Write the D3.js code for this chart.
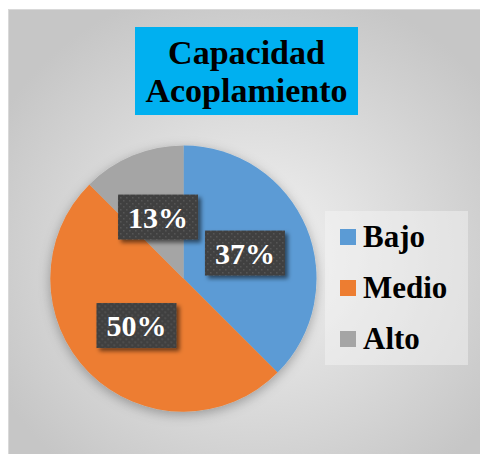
<!DOCTYPE html>
<html>
<head>
<meta charset="utf-8">
<script src="https://cdn.jsdelivr.net/npm/d3@7"></script>
<style>
  html, body { margin: 0; padding: 0; background: #ffffff; }
  svg { display: block; }
</style>
</head>
<body>
<div id="chart"></div>
<script>
const categories = ["Bajo", "Medio", "Alto"];
const values = [37.5, 50, 12.5];
const pctLabels = ["37%", "50%", "13%"];
const colors = ["#5b9bd5", "#ed7d31", "#a5a5a5"];
const titleLines = ["Capacidad", "Acoplamiento"];

const width = 480;
const height = 454;
const serif = "'Liberation Serif', 'Times New Roman', serif";

const svg = d3.select("#chart")
  .append("svg")
  .attr("width", width)
  .attr("height", height);

const defs = svg.append("defs");

// chart area background
const bg = defs.append("radialGradient")
  .attr("id", "bgGrad")
  .attr("cx", "52%").attr("cy", "55%").attr("r", "62%");
bg.append("stop").attr("offset", "0%").attr("stop-color", "#f3f3f3");
bg.append("stop").attr("offset", "100%").attr("stop-color", "#c6c6c6");

const pieShadow = defs.append("filter")
  .attr("id", "pieShadow")
  .attr("x", "-20%").attr("y", "-20%").attr("width", "140%").attr("height", "140%");
pieShadow.append("feDropShadow")
  .attr("dx", 0).attr("dy", 3)
  .attr("stdDeviation", 6)
  .attr("flood-color", "#000")
  .attr("flood-opacity", 0.3);

const boxShadow = defs.append("filter")
  .attr("id", "boxShadow")
  .attr("x", "-20%").attr("y", "-20%").attr("width", "150%").attr("height", "160%");
boxShadow.append("feDropShadow")
  .attr("dx", 3).attr("dy", 3)
  .attr("stdDeviation", 2)
  .attr("flood-color", "#000")
  .attr("flood-opacity", 0.55);

const dots = defs.append("pattern")
  .attr("id", "dots")
  .attr("patternUnits", "userSpaceOnUse")
  .attr("width", 6).attr("height", 6);
dots.append("rect").attr("width", 6).attr("height", 6).attr("fill", "#404040");
dots.append("rect").attr("x", 1).attr("y", 1).attr("width", 1.5).attr("height", 1.5).attr("fill", "#575757");
dots.append("rect").attr("x", 4).attr("y", 4).attr("width", 1.5).attr("height", 1.5).attr("fill", "#575757");

svg.append("rect")
  .attr("x", 8.5).attr("y", 9.5)
  .attr("width", width - 8).attr("height", height - 9)
  .attr("fill", "url(#bgGrad)")
  .attr("stroke", "#d9d9d9")
  .attr("stroke-width", 1);

// ---- Title ----
svg.append("rect")
  .attr("x", 135).attr("y", 27)
  .attr("width", 223).attr("height", 88)
  .attr("fill", "#00b0f0");

svg.append("g")
  .selectAll("text")
  .data(titleLines)
  .enter()
  .append("text")
  .attr("x", 246.5)
  .attr("y", (d, i) => 63.5 + i * 38.5)
  .attr("text-anchor", "middle")
  .attr("font-family", serif)
  .attr("font-weight", "bold")
  .attr("font-size", 34)
  .attr("fill", "#000")
  .text(d => d);

// ---- Pie ----
const cx = 183.5, cy = 278.5, radius = 133;

const pie = d3.pie().sort(null).value(d => d)(values);
const arc = d3.arc().innerRadius(0).outerRadius(radius);

const pieG = svg.append("g").attr("transform", `translate(${cx},${cy})`);

pieG.append("g")
  .attr("filter", "url(#pieShadow)")
  .selectAll("path")
  .data(pie)
  .enter()
  .append("path")
  .attr("d", arc)
  .attr("fill", (d, i) => colors[i]);

const boxW = 80, boxH = 45;
const labels = pieG.selectAll(".lbl")
  .data(pie)
  .enter()
  .append("g")
  .attr("class", "lbl")
  .attr("transform", d => `translate(${arc.centroid(d)})`);

labels.append("rect")
  .attr("x", -boxW / 2).attr("y", -boxH / 2)
  .attr("width", boxW).attr("height", boxH)
  .attr("fill", "url(#dots)")
  .attr("filter", "url(#boxShadow)");

labels.append("text")
  .attr("y", 10.5)
  .attr("text-anchor", "middle")
  .attr("font-family", serif)
  .attr("font-weight", "bold")
  .attr("font-size", 30)
  .attr("fill", "#fff")
  .text((d, i) => pctLabels[i]);

// ---- Legend ----
svg.append("rect")
  .attr("x", 325).attr("y", 211)
  .attr("width", 143).attr("height", 154)
  .attr("fill", "#f7f7f7")
  .attr("opacity", 0.45);

const legendItems = svg.append("g")
  .selectAll("g")
  .data(categories)
  .enter()
  .append("g")
  .attr("transform", (d, i) => `translate(340, ${229 + i * 51})`);

legendItems.append("rect")
  .attr("width", 16).attr("height", 16)
  .attr("fill", (d, i) => colors[i]);

legendItems.append("text")
  .attr("x", 23)
  .attr("y", 18)
  .attr("font-family", serif)
  .attr("font-weight", "bold")
  .attr("font-size", 31)
  .attr("fill", "#000")
  .text(d => d);
</script>
</body>
</html>
